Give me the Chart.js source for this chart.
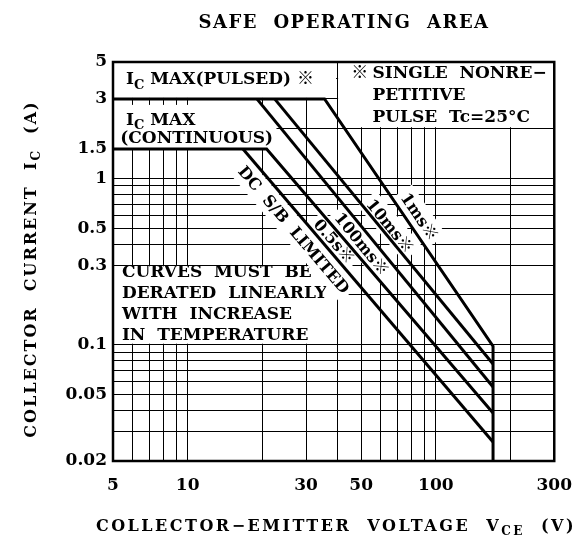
<!DOCTYPE html>
<html>
<head>
<meta charset="utf-8">
<title>Safe Operating Area</title>
<script src="https://cdn.jsdelivr.net/npm/chart.js@4.4.1/dist/chart.umd.min.js"></script>
<style>
    html, body { margin: 0; padding: 0; background: #fff; }
    #contenedor { width: 586px; height: 542px; }
</style>
</head>
<body>
<div id="contenedor"><canvas id="soaChart" width="586" height="542"></canvas></div>
<script>
// ========== DATOS ==========
const xGrid = [5, 6, 7, 8, 9, 10, 20, 30, 40, 50, 60, 70, 80, 90, 100, 200, 300];
const xLabels = [5, 10, 30, 50, 100, 300];
const yGrid = [0.02, 0.03, 0.04, 0.05, 0.06, 0.07, 0.08, 0.09, 0.1, 0.2, 0.3, 0.4, 0.5,
               0.6, 0.7, 0.8, 0.9, 1, 1.5, 2, 3, 4, 5];
const yLabels = [0.02, 0.05, 0.1, 0.3, 0.5, 1, 1.5, 3, 5];

// Curvas (V en voltios, I en amperios)
const pulsedV = [5, 35.6, 170, 170];      // Ic max pulsado + 1ms + límite VCEO
const pulsedI = [3, 3, 0.098, 0.02];
const ms10V = [22.4, 170];
const ms10I = [3, 0.0766];
const ms100V = [19, 170];
const ms100I = [3, 0.0557];
const s05V = [5, 20.8, 170];              // Ic max continuo + 0.5s
const s05I = [1.5, 1.5, 0.0389];
const dcV = [16.7, 170];
const dcI = [1.5, 0.026];

// ========== ESTILO ==========
const FAMILIA = '"DejaVu Serif", "Noto Sans CJK JP", serif';
function fuente(size) {
    return 'bold ' + size + 'px ' + FAMILIA;
}

function puntos(vs, is) {
    return vs.map((v, k) => ({ x: v, y: is[k] }));
}

// Zonas blancas de las etiquetas (tapan la rejilla)
const cajasBlancas = [
    { x0: 5, x1: 40, y0: 3, y1: 5 },
    { x0: 40, x1: 300, y0: 2, y1: 5 },
    { x0: 5, x1: 23, y0: 1.5, y1: 2.8 },
    { x0: 5, x1: 40, y0: 0.1, y1: 0.3 }
];

// Etiquetas de cada curva: voltaje sobre el tramo diagonal y desplazamiento perpendicular (px)
const etiquetasCurvas = [
    { texto: '1ms※', serie: 0, tramo: 1, v: 78.2, desp: 12 },
    { texto: '10ms※', serie: 1, tramo: 0, v: 61.6, desp: 8 },
    { texto: '100ms※', serie: 2, tramo: 0, v: 54.3, desp: -11 },
    { texto: '0.5s※', serie: 3, tramo: 1, v: 41.4, desp: -9 },
    { texto: 'DC  S/B  LIMITED', serie: 4, tramo: 0, v: 29.5, desp: -14 }
];

// ========== UTILIDADES DE TEXTO ==========
function textoConSubindice(ctx, partes, x, y, size, align) {
    let ancho = 0;
    partes.forEach(([t, sub]) => {
        ctx.font = fuente(sub ? Math.round(size * 0.75) : size);
        ancho += ctx.measureText(t).width;
    });
    let cx = align === 'center' ? x - ancho / 2 : x;
    ctx.textAlign = 'left';
    partes.forEach(([t, sub]) => {
        ctx.font = fuente(sub ? Math.round(size * 0.75) : size);
        ctx.fillText(t, cx, sub ? y + size * 0.28 : y);
        cx += ctx.measureText(t).width;
    });
}

// ========== PLUGIN DE ANOTACIONES ==========
const anotaciones = {
    id: 'anotaciones',
    beforeDatasetsDraw(chart) {
        const { ctx } = chart;
        const xs = chart.scales.x, ys = chart.scales.y;
        const px = v => xs.getPixelForValue(v);
        const py = v => ys.getPixelForValue(v);

        ctx.save();
        // Fondos blancos
        ctx.fillStyle = '#fff';
        cajasBlancas.forEach(c => {
            const a = Math.min(px(c.x0), px(c.x1)), b = Math.max(px(c.x0), px(c.x1));
            const t = Math.min(py(c.y0), py(c.y1)), d = Math.max(py(c.y0), py(c.y1));
            ctx.fillRect(a + 1, t + 1, b - a - 2, d - t - 2);
        });

        ctx.fillStyle = '#000';
        ctx.textBaseline = 'alphabetic';
        ctx.letterSpacing = '0px';

        // Ic MAX (PULSED)
        textoConSubindice(ctx, [['I', false], ['C', true], [' MAX(PULSED) ※', false]], px(5.64), py(3.69), 17);
        // Ic MAX (CONTINUOUS)
        textoConSubindice(ctx, [['I', false], ['C', true], [' MAX', false]], px(5.64), py(2.1), 17);
        textoConSubindice(ctx, [['(CONTINUOUS)', false]], px(5.35), py(1.64), 17);

        // Nota de pulso único
        ctx.font = fuente(17);
        ctx.textAlign = 'left';
        ctx.fillText('※', px(45.6), py(4.0));
        ctx.fillText('SINGLE  NONRE−', px(55.5), py(4.0));
        ctx.fillText('PETITIVE', px(55.5), py(2.96));
        ctx.fillText('PULSE  Tc=25°C', px(55.5), py(2.18));

        // Nota de reducción por temperatura
        ctx.fillText('CURVES  MUST  BE', px(5.43), py(0.255));
        ctx.fillText('DERATED  LINEARLY', px(5.43), py(0.191));
        ctx.fillText('WITH  INCREASE', px(5.43), py(0.143));
        ctx.fillText('IN  TEMPERATURE', px(5.43), py(0.107));

        // Etiquetas giradas de las curvas
        etiquetasCurvas.forEach(e => {
            const datos = chart.data.datasets[e.serie].data;
            const p0 = { x: px(datos[e.tramo].x), y: py(datos[e.tramo].y) };
            const p1 = { x: px(datos[e.tramo + 1].x), y: py(datos[e.tramo + 1].y) };
            const ang = Math.atan2(p1.y - p0.y, p1.x - p0.x);
            const fx = px(e.v);
            const t = (fx - p0.x) / (p1.x - p0.x);
            const fy = p0.y + t * (p1.y - p0.y);
            const cx = fx + e.desp * Math.sin(ang);
            const cy = fy - e.desp * Math.cos(ang);

            ctx.save();
            ctx.translate(cx, cy);
            ctx.rotate(ang);
            ctx.font = fuente(16);
            const w = ctx.measureText(e.texto).width;
            ctx.fillStyle = '#fff';
            ctx.fillRect(-w / 2 - 4, -12, w + 8, 24);
            ctx.fillStyle = '#000';
            ctx.textAlign = 'center';
            ctx.textBaseline = 'middle';
            ctx.fillText(e.texto, 0, 1);
            ctx.restore();
        });
        ctx.restore();
    },
    afterDatasetsDraw(chart) {
        const { ctx, chartArea: ca } = chart;
        ctx.save();
        ctx.strokeStyle = '#000';
        ctx.lineWidth = 2.5;
        ctx.strokeRect(ca.left, ca.top, ca.right - ca.left, ca.bottom - ca.top);
        ctx.restore();
    },
    afterDraw(chart) {
        const { ctx } = chart;
        ctx.save();
        ctx.fillStyle = '#000';
        ctx.textBaseline = 'alphabetic';

        // Título
        ctx.letterSpacing = '1.5px';
        ctx.font = fuente(18);
        ctx.textAlign = 'center';
        ctx.fillText('SAFE  OPERATING  AREA', 344, 28);

        // Título eje X
        ctx.letterSpacing = '2.5px';
        textoConSubindice(ctx, [['COLLECTOR−EMITTER  VOLTAGE  V', false], ['CE', true], ['  (V)', false]], 336, 531, 16, 'center');

        // Título eje Y
        ctx.letterSpacing = '2px';
        ctx.translate(30, 269);
        ctx.rotate(-Math.PI / 2);
        textoConSubindice(ctx, [['COLLECTOR  CURRENT  I', false], ['C', true], ['  (A)', false]], 0, 6, 16, 'center');
        ctx.restore();
    }
};

// ========== GRÁFICO ==========
const lineaBase = {
    borderColor: '#000',
    borderWidth: 3,
    pointRadius: 0,
    fill: false,
    tension: 0,
    borderJoinStyle: 'miter'
};

const ctxSoa = document.getElementById('soaChart').getContext('2d');
const soaChart = new Chart(ctxSoa, {
    type: 'line',
    data: {
        datasets: [
            { ...lineaBase, label: '1ms', data: puntos(pulsedV, pulsedI) },
            { ...lineaBase, label: '10ms', data: puntos(ms10V, ms10I) },
            { ...lineaBase, label: '100ms', data: puntos(ms100V, ms100I) },
            { ...lineaBase, label: '0.5s', data: puntos(s05V, s05I) },
            { ...lineaBase, label: 'DC', data: puntos(dcV, dcI) }
        ]
    },
    options: {
        responsive: false,
        animation: false,
        events: [],
        layout: { padding: { top: 62, right: 31, left: 0, bottom: 0 } },
        plugins: {
            legend: { display: false },
            tooltip: { enabled: false }
        },
        scales: {
            x: {
                type: 'logarithmic',
                min: 5,
                max: 300,
                afterBuildTicks: s => { s.ticks = xGrid.map(v => ({ value: v })); },
                afterFit: s => { s.height = 81; },
                grid: { color: '#000', lineWidth: 1, drawTicks: false },
                border: { display: false },
                ticks: {
                    autoSkip: false,
                    maxRotation: 0,
                    padding: 14,
                    color: '#000',
                    font: { family: FAMILIA, size: 17, weight: 'bold' },
                    callback: v => xLabels.includes(v) ? String(v) : ''
                }
            },
            y: {
                type: 'logarithmic',
                min: 0.02,
                max: 5,
                afterBuildTicks: s => { s.ticks = yGrid.map(v => ({ value: v })); },
                afterFit: s => { s.width = 113; },
                grid: {
                    color: c => (c.tick && c.tick.value === 1.5) ? 'rgba(0,0,0,0)' : '#000',
                    lineWidth: 1,
                    drawTicks: false
                },
                border: { display: false },
                ticks: {
                    autoSkip: false,
                    padding: 6,
                    color: '#000',
                    font: { family: FAMILIA, size: 17, weight: 'bold' },
                    callback: v => yLabels.includes(v) ? String(v) : ''
                }
            }
        }
    },
    plugins: [anotaciones]
});
</script>
</body>
</html>
